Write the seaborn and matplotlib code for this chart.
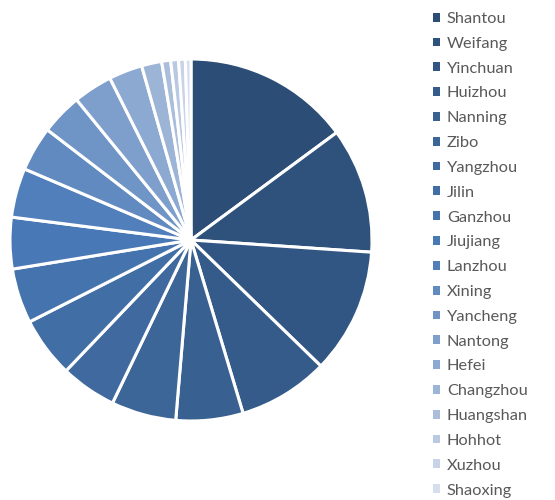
import matplotlib
matplotlib.use("Agg")
import matplotlib.pyplot as plt
import seaborn as sns

cities = ["Shantou", "Weifang", "Yinchuan", "Huizhou", "Nanning", "Zibo", "Yangzhou",
          "Jilin", "Ganzhou", "Jiujiang", "Lanzhou", "Xining", "Yancheng", "Nantong",
          "Hefei", "Changzhou", "Huangshan", "Hohhot", "Xuzhou", "Shaoxing"]
values = [14.9, 11.2, 11.2, 8.1, 6.0, 5.8, 5.0, 5.4, 4.9, 4.6,
          4.4, 4.0, 3.7, 3.5, 3.0, 1.8, 0.8, 0.7, 0.6, 0.5]

sns.set_theme(style="white")
plt.rcParams["font.family"] = ["Lato", "DejaVu Sans"]

colors = sns.blend_palette(["#2C4D75", "#4A7AB8", "#D6DDEC"], len(cities))

W, H = 555, 500
fig = plt.figure(figsize=(W / 100, H / 100), dpi=100)
cx, cy, r = 191, 240, 181
ax = fig.add_axes([(cx - r) / W, (H - cy - r) / H, 2 * r / W, 2 * r / H])
wedges, _ = ax.pie(values, colors=colors, startangle=90, counterclock=False,
                   radius=1, wedgeprops=dict(edgecolor="white", linewidth=2.2))
ax.set_xlim(-1, 1)
ax.set_ylim(-1, 1)
ax.set_aspect("equal")
ax.axis("off")

leg = fig.legend(wedges, cities, loc="upper left", bbox_to_anchor=(433 / W, 1 - 12 / H),
                 frameon=False, fontsize=11.8, handlelength=0.45, handleheight=0.45,
                 handletextpad=0.4, labelspacing=0.66, borderaxespad=0, borderpad=0)
for t in leg.get_texts():
    t.set_color("#595959")
for h in leg.legend_handles:
    h.set_edgecolor("none")

fig.savefig("out.png", dpi=100, facecolor="white")
